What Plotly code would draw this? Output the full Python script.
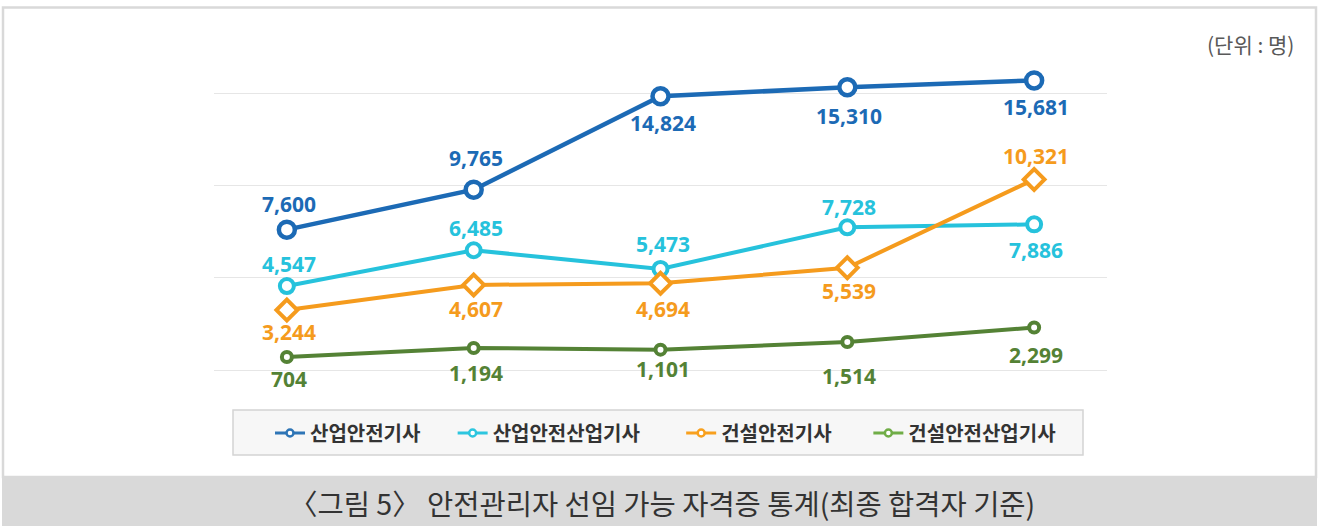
import plotly.graph_objects as go

# ---- data ----
categories = ["1", "2", "3", "4", "5"]  # x-axis labels are not shown in the reference
series_names = ["산업안전기사", "산업안전산업기사", "건설안전기사", "건설안전산업기사"]
industrial_engineer = [7600, 9765, 14824, 15310, 15681]
industrial_technician = [4547, 6485, 5473, 7728, 7886]
construction_engineer = [3244, 4607, 4694, 5539, 10321]
construction_technician = [704, 1194, 1101, 1514, 2299]
grid_values = [0, 5000, 10000, 15000]
unit_label = "(단위 : 명)"
caption = "〈그림 5〉 안전관리자 선임 가능 자격증 통계(최종 합격자 기준)"

# ---- styles ----
W, H = 1318, 526
L, R, T, B = 214, 211, 60, 126
line_colors = ["#1c6ab5", "#26c2dc", "#f59b1d", "#548235"]
legend_colors = ["#2e75b6", "#2dc6df", "#f8a01e", "#70ad47"]
symbols = ["circle", "circle", "diamond", "circle"]
msizes = [16, 14, 16, 10]
mlines = [4.5, 4, 4, 4]
lwidths = [4.5, 4, 4, 4]
# label vertical shifts in px (+ above marker, - below)
label_shift = [
    [26, 32, -27, -29, -27],
    [22, 22, 25, 20, -26],
    [-22, -24, -26, -23, 23],
    [-22, -25, -19, -34, -27],
]
all_values = [industrial_engineer, industrial_technician, construction_engineer, construction_technician]

fig = go.Figure()
annotations = []
for i, vals in enumerate(all_values):
    fig.add_trace(go.Scatter(
        x=categories, y=vals, mode="lines+markers",
        name=series_names[i], showlegend=False,
        line=dict(color=line_colors[i], width=lwidths[i]),
        marker=dict(symbol=symbols[i], size=msizes[i], color="white",
                    line=dict(color=line_colors[i], width=mlines[i])),
        hoverinfo="skip",
    ))
    for j, v in enumerate(vals):
        annotations.append(dict(
            x=j, y=v, xref="x", yref="y", text=f"{v:,}",
            showarrow=False, xanchor="center", yanchor="middle",
            xshift=2, yshift=label_shift[i][j],
            font=dict(family="Open Sans", size=21, color=line_colors[i], weight="bold"),
        ))

pad = ["\u00a0" * 6, "\u00a0" * 8, "\u00a0" * 7, ""]
for i, name in enumerate(series_names):
    fig.add_trace(go.Scatter(
        x=[None], y=[None], mode="lines+markers", name=name + pad[i],
        line=dict(color=legend_colors[i], width=3),
        marker=dict(symbol="circle", size=7, color="white",
                    line=dict(color=legend_colors[i], width=2.5)),
    ))

# pixel -> paper helpers
pw, ph = W - L - R, H - T - B
def px(x):
    return (x - L) / pw
def py(y):
    return (H - B - y) / ph

# y scale: 0 at y=370px, 15000 at y=93px
k = (370 - 93) / 15000
y_top = (370 - T) / k
y_bot = (370 - (H - B)) / k

shapes = [
    dict(type="rect", xref="paper", yref="paper", x0=px(3), x1=px(1316), y0=py(477), y1=py(7.5),
         line=dict(color="#d9d9d9", width=2.5), fillcolor="rgba(0,0,0,0)", layer="below"),
    dict(type="rect", xref="paper", yref="paper", x0=px(2), x1=px(1317), y0=py(526), y1=py(477),
         line=dict(width=0), fillcolor="#d9d9d9", layer="below"),
    dict(type="rect", xref="paper", yref="paper", x0=px(233), x1=px(1083), y0=py(455), y1=py(410),
         line=dict(color="#d4d4d4", width=1.5), fillcolor="#f7f7f7", layer="below"),
]

annotations += [
    dict(text=unit_label, xref="paper", yref="paper", x=px(1296), y=py(44),
         xanchor="right", yanchor="middle", showarrow=False,
         font=dict(family="Noto Sans CJK KR", size=21, color="#595959")),
    dict(text=caption, xref="paper", yref="paper", x=px(662), y=py(502),
         xanchor="center", yanchor="middle", showarrow=False,
         font=dict(family="Noto Sans CJK KR", size=28.5, color="#333333")),
]

fig.update_layout(
    width=W, height=H,
    margin=dict(l=L, r=R, t=T, b=B, pad=0),
    paper_bgcolor="white", plot_bgcolor="white",
    xaxis=dict(type="category", range=[-0.39, 4.39], showticklabels=False, showgrid=False,
               zeroline=False, showline=False, ticks=""),
    yaxis=dict(range=[y_bot, y_top], tickvals=grid_values, showticklabels=False,
               showgrid=True, gridcolor="#e6e6e6", gridwidth=1, zeroline=False, showline=False),
    showlegend=True,
    legend=dict(orientation="h", x=px(270), xanchor="left", y=py(433), yanchor="middle",
                bgcolor="rgba(0,0,0,0)", borderwidth=0,
                font=dict(family="Noto Sans CJK KR", size=20, color="#333333", weight="bold"),
                itemclick=False, itemdoubleclick=False, tracegroupgap=0),
    shapes=shapes,
    annotations=annotations,
)

fig.write_html("out.html", config={"displayModeBar": False},
               post_script="document.body.style.margin='0';document.body.style.overflow='hidden';")
